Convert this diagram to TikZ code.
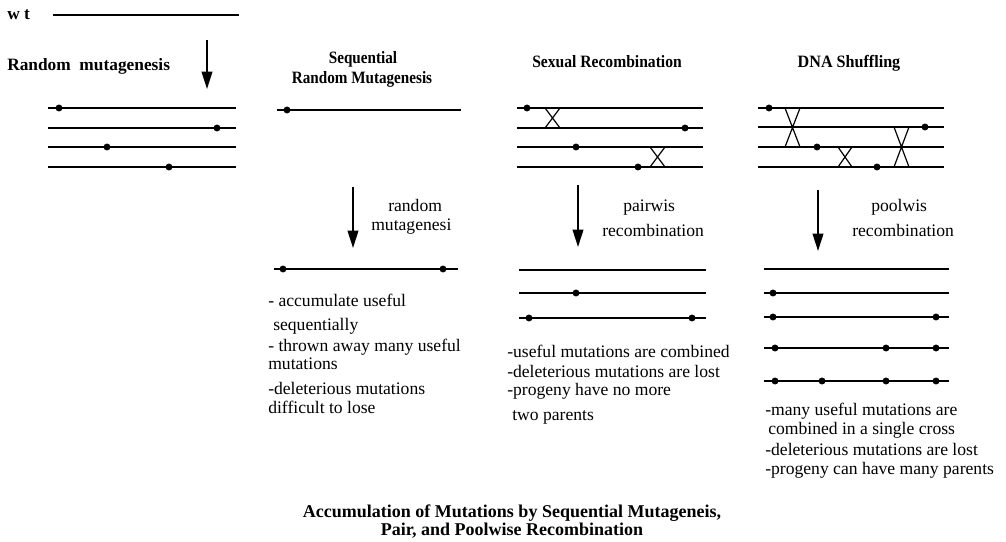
\documentclass[tikz,border=0pt]{standalone}
\usepackage{fontspec}
\setmainfont{Liberation Serif}
\usepackage{graphicx}
\usetikzlibrary{arrows.meta}
\newcommand\mutdot[1]{\fill #1 circle[radius=2.6pt];}
\begin{document}
\begin{tikzpicture}[x=0.75pt,y=-0.75pt,
  strand/.style={line width=1.1pt},
  xover/.style={line width=0.9pt},
  arr/.style={line width=1.3pt,-{Triangle[length=13pt,width=8pt]}},
  body/.style={font=\fontsize{13.2}{15}\selectfont,anchor=base west,inner sep=0pt},
  head/.style={font=\fontsize{13}{15}\selectfont\bfseries,anchor=base,inner sep=0pt},
  captext/.style={font=\fontsize{13.5}{15}\selectfont\bfseries,anchor=base,inner sep=0pt}]
\useasboundingbox (0,0) rectangle (1006,542);

% ---------- column 1: wild type and random mutagenesis
\node[head,anchor=base west] (wt) at (7,20) {w t};
\coordinate (wtA) at (53,15); \coordinate (wtB) at (239,15);
\draw[strand] (wtA) -- (wtB);
\coordinate (a1s) at (207,40); \coordinate (a1e) at (207,89);
\draw[arr] (a1s) -- (a1e);
\node[head,anchor=base west] (rm) at (7,70) {Random\ \ mutagenesis};
\foreach \y/\d in {108/59,128/217,147/107,167/169}{
  \draw[strand] (48,\y) -- (236,\y);
  \mutdot{(\d,\y)}
}

% ---------- column 2: sequential random mutagenesis
\node[head] (sq1) at (363,64) {\scalebox{0.875}[1]{Sequential}};
\node[head] (sq2) at (362,84) {\scalebox{0.875}[1]{Random Mutagenesis}};
\draw[strand] (277,110) -- (461,110);
\mutdot{(287,110)}
\coordinate (a2s) at (353,187); \coordinate (a2e) at (353,248);
\draw[arr] (a2s) -- (a2e);
\node[body] (r1) at (388,211) {random};
\node[body] (r2) at (371,230) {mutagenesi};
\draw[strand] (274,269) -- (458,269);
\mutdot{(283,269)} \mutdot{(443,269)}
\node[body] (t21) at (268,306) {- accumulate useful};
\node[body] (t22) at (273,330) {sequentially};
\node[body] (t23) at (268,351) {- thrown away many useful};
\node[body] (t24) at (268,369) {mutations};
\node[body] (t25) at (268,394) {-deleterious mutations};
\node[body] (t26) at (268,413) {difficult to lose};

% ---------- column 3: sexual recombination
\node[head] (sx) at (607,68) {\scalebox{0.9}[1]{Sexual Recombination}};
\foreach \y in {108,128,147,167}{ \draw[strand] (517,\y) -- (703,\y); }
\draw[xover] (545,108) -- (560,128) (560,108) -- (545,128);
\draw[xover] (650,147) -- (665,167) (665,147) -- (650,167);
\mutdot{(527,108)} \mutdot{(685,128)} \mutdot{(576,147)} \mutdot{(638,167)}
\coordinate (a3s) at (578,185); \coordinate (a3e) at (578,247);
\draw[arr] (a3s) -- (a3e);
\node[body] (p1) at (623,211) {pairwis};
\node[body] (p2) at (602,236) {recombination};
\foreach \y in {270,293,318}{ \draw[strand] (519,\y) -- (706,\y); }
\mutdot{(576,293)} \mutdot{(529,318)} \mutdot{(692,318)}
\node[body] (t31) at (507,357) {-useful mutations are combined};
\node[body] (t32) at (507,377) {-deleterious mutations are lost};
\node[body] (t33) at (507,395) {-progeny have no more};
\node[body] (t34) at (512,420) {two parents};

% ---------- column 4: DNA shuffling
\node[head] (ds) at (849,68) {\scalebox{0.93}[1]{DNA Shuffling}};
\foreach \y in {108,127,147,167}{ \draw[strand] (758,\y) -- (944,\y); }
\draw[xover] (785,108) -- (800,147) (800,108) -- (785,147);
\draw[xover] (838,147) -- (852,167) (852,147) -- (838,167);
\draw[xover] (894,127) -- (909,167) (909,127) -- (894,167);
\mutdot{(769,108)} \mutdot{(925,127)} \mutdot{(817,147)} \mutdot{(877,167)}
\coordinate (a4s) at (818,190); \coordinate (a4e) at (818,251);
\draw[arr] (a4s) -- (a4e);
\node[body] (q1) at (871,211) {poolwis};
\node[body] (q2) at (852,236) {recombination};
\foreach \y in {269,293,317,348,381}{ \draw[strand] (764,\y) -- (949,\y); }
\mutdot{(773,293)}
\mutdot{(773,317)} \mutdot{(936,317)}
\mutdot{(775,348)} \mutdot{(886,348)} \mutdot{(936,348)}
\mutdot{(775,381)} \mutdot{(822,381)} \mutdot{(886,381)} \mutdot{(936,381)}
\node[body] (t41) at (765,415) {-many useful mutations are};
\node[body] (t42) at (768,434) {combined in a single cross};
\node[body] (t43) at (765,455) {-deleterious mutations are lost};
\node[body] (t44) at (765,474) {-progeny can have many parents};

% ---------- caption
\node[captext] (c1) at (512,517) {Accumulation of Mutations by Sequential Mutageneis,};
\node[captext] (c2) at (512,535) {Pair, and Poolwise Recombination};
\end{tikzpicture}
\end{document}
